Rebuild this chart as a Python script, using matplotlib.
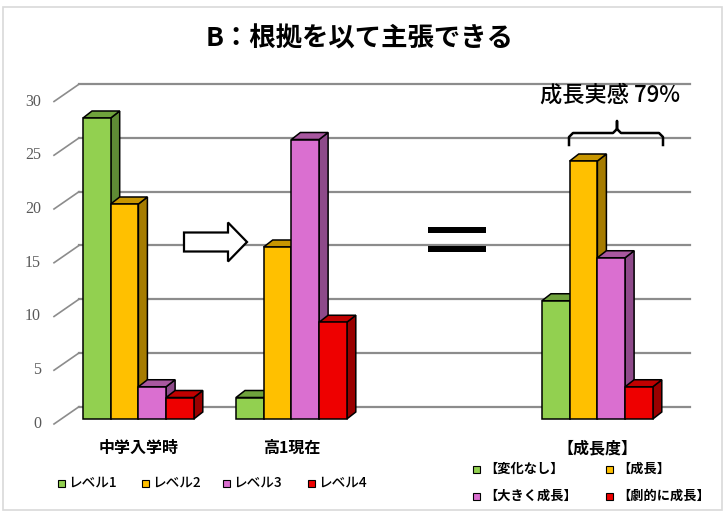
import numpy as np
import matplotlib
matplotlib.use('Agg')
import matplotlib.pyplot as plt
from matplotlib.patches import Polygon, Rectangle

plt.rcParams['font.family'] = ['Noto Sans CJK JP', 'DejaVu Sans']

# データ
groups = ['中学入学時', '高1現在', '【成長度】']
group_pos = [0, 1, 3]          # 2 は「＝」の場所
levels = ['レベル1', 'レベル2', 'レベル3', 'レベル4']
growth_names = ['【変化なし】', '【成長】', '【大きく成長】', '【劇的に成長】']
at_entry = [28, 20, 3, 2]
at_now = [2, 16, 26, 9]
growth = [11, 24, 15, 3]
yticks = [0, 5, 10, 15, 20, 25, 30]
title = 'B：根拠を以て主張できる'
note = '成長実感 79%'

front_c = ['#92D050', '#FFC000', '#DA6FD0', '#EE0000']
side_c = ['#5F8B35', '#A67C00', '#8E4A8A', '#990000']
top_c = ['#6FA23C', '#C89600', '#A8579F', '#C00000']

W, H = 728, 517
fig = plt.figure(figsize=(W / 100, H / 100), dpi=100)
ax = fig.add_axes([0, 0, 1, 1])
# 1カテゴリ=153px, 1単位=10.75px, 棒の底=419px
sx, sy = 153.0, 10.75
x0px, y0px = 138.4, 419.0
ax.set_xlim(-x0px / sx, (W - x0px) / sx)
ax.set_ylim(-(H - y0px) / sy, y0px / sy)
ax.axis('off')


def px(x):
    return (x - x0px) / sx


def fx(x):
    return x / W


def fy(y):
    return 1 - y / H


# 枠
fig.patches.append(Rectangle((fx(3), fy(510)), fx(722) - fx(3), fy(7) - fy(510),
                             transform=fig.transFigure, fill=False,
                             ec='#D9D9D9', lw=1.2))

# 目盛り線（奥）と斜めの線
back_dy, front_dy = 12.3 / sy, -5.0 / sy
for v in yticks:
    ax.plot([px(79), px(690)], [v + back_dy, v + back_dy], color='#8C8C8C', lw=1.6, zorder=1)
    ax.plot([px(54), px(79)], [v + front_dy, v + back_dy], color='#8C8C8C', lw=1.2, zorder=1)
    ax.text(px(41), v + front_dy, str(v), ha='right', va='center', fontsize=11.5,
            color='#595959', family=['Liberation Serif', 'DejaVu Serif'])

# 3D風の棒
bw = 27.7 / sx
ddx, ddy = 9 / sx, 7 / sy
series = [at_entry, at_now, growth]
for g, vals in zip(group_pos, series):
    for i, v in enumerate(vals):
        left = g + (i - 2) * bw
        right = left + bw
        z = 2 + i * 0.1
        ax.add_patch(Polygon([(right, 0), (right + ddx, ddy), (right + ddx, v + ddy), (right, v)],
                             closed=True, fc=side_c[i], ec='k', lw=1.1, zorder=z))
        ax.add_patch(Polygon([(left, v), (left + ddx, v + ddy), (right + ddx, v + ddy), (right, v)],
                             closed=True, fc=top_c[i], ec='k', lw=1.1, zorder=z))
        ax.bar(left, v, width=bw, align='edge', color=front_c[i], edgecolor='k',
               linewidth=1.1, zorder=5)

# カテゴリ名
for g, name in zip(group_pos, groups):
    ax.text(g, (y0px - 448) / sy, name, ha='center', va='center',
            fontsize=11.5, fontweight='bold', color='black')

# 矢印
arrow = [(184, 232.5), (228, 232.5), (228, 222.5), (247, 242), (228, 261.5),
         (228, 251.5), (184, 251.5)]
fig.patches.append(Polygon([(fx(a), fy(b)) for a, b in arrow], closed=True,
                           transform=fig.transFigure, fc='white', ec='black', lw=1.6))

# ＝
for y1, y2 in [(227, 233), (246, 252)]:
    fig.patches.append(Rectangle((fx(428), fy(y2)), fx(486) - fx(428), fy(y1) - fy(y2),
                                 transform=fig.transFigure, fc='black', ec='none'))

# 中かっこ
brace_x = [569, 569, 573, 613, 617, 617, 617, 621, 659, 663, 663]
brace_y = [145, 137, 133, 133, 129, 121, 129, 133, 133, 137, 145]
fig.add_artist(plt.Line2D([fx(a) for a in brace_x], [fy(b) for b in brace_y],
                          color='black', lw=1.8, transform=fig.transFigure))
fig.text(fx(610), fy(95), note, ha='center', va='center', fontsize=16,
         fontweight='medium', color='black')

# タイトル
fig.text(fx(360), fy(39), title, ha='center', va='center', fontsize=19,
         fontweight='bold', color='black')

# 凡例（左）
leg_x = [58, 142, 223, 308]
for i, (lx, name) in enumerate(zip(leg_x, levels)):
    fig.patches.append(Rectangle((fx(lx), fy(487)), fx(7), fy(0) - fy(7),
                                 transform=fig.transFigure, fc=front_c[i], ec='black', lw=0.8))
    fig.text(fx(lx + 10), fy(483), name, ha='left', va='center', fontsize=9.8,
             fontweight='medium', color='black')

# 凡例（右）
leg_pos = [(473, 469), (606, 469), (473, 496), (606, 496)]
for i, ((lx, ly), name) in enumerate(zip(leg_pos, growth_names)):
    fig.patches.append(Rectangle((fx(lx), fy(ly + 3.5)), fx(7), fy(0) - fy(7),
                                 transform=fig.transFigure, fc=front_c[i], ec='black', lw=0.8))
    fig.text(fx(lx + 11), fy(ly), name, ha='left', va='center', fontsize=9.5,
             fontweight='bold', color='black')

fig.savefig('out.png', dpi=100)
